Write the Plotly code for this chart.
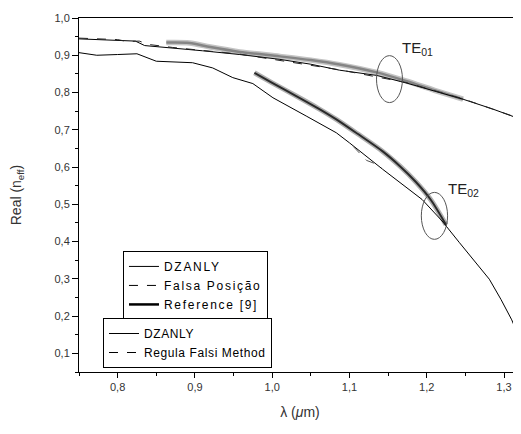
import plotly.graph_objects as go

# ---- data ----
# TE01 mode
te01_dz_x = [0.75, 0.80, 0.823, 0.835, 0.871, 0.91, 0.958, 1.01, 1.05, 1.087, 1.135, 1.173, 1.21, 1.247, 1.285, 1.322]
te01_dz_y = [0.944, 0.941, 0.938, 0.926, 0.920, 0.912, 0.902, 0.889, 0.876, 0.860, 0.846, 0.826, 0.804, 0.782, 0.756, 0.728]

te01_fp_x = [0.75, 0.80, 0.812, 0.828, 0.84, 0.871, 0.958, 1.087, 1.173, 1.247, 1.322]
te01_fp_y = [0.946, 0.942, 0.937, 0.938, 0.929, 0.921, 0.903, 0.861, 0.827, 0.783, 0.729]

te01_ref_x = [0.863, 0.893, 0.92, 0.958, 1.01, 1.05, 1.087, 1.135, 1.173, 1.21, 1.247]
te01_ref_y = [0.934, 0.933, 0.922, 0.909, 0.897, 0.887, 0.875, 0.854, 0.831, 0.806, 0.782]

# TE02 mode
te02_dz_x = [0.75, 0.773, 0.80, 0.825, 0.850, 0.897, 0.923, 0.949, 0.975, 1.001, 1.044, 1.083, 1.10,
             1.143, 1.194, 1.22, 1.242, 1.281, 1.296, 1.31, 1.322]
te02_dz_y = [0.907, 0.900, 0.902, 0.904, 0.884, 0.880, 0.866, 0.840, 0.824, 0.786, 0.737, 0.692, 0.665,
             0.594, 0.513, 0.455, 0.398, 0.299, 0.245, 0.19, 0.13]

te02_fp_x = [1.105, 1.112, 1.122, 1.132, 1.142]
te02_fp_y = [0.655, 0.640, 0.618, 0.610, 0.598]

te02_ref_x = [0.977, 1.00, 1.03, 1.06, 1.083, 1.11, 1.143, 1.165, 1.186, 1.205, 1.225]
te02_ref_y = [0.853, 0.826, 0.792, 0.757, 0.728, 0.690, 0.642, 0.603, 0.560, 0.513, 0.445]

legend1_names = ["DZANLY", "Falsa Posição", "Reference [9]"]
legend2_names = ["DZANLY", "Regula Falsi Method"]

x_range = [0.75, 1.322]
y_range = [0.05, 1.0]

FONT = "Arial, Liberation Sans, sans-serif"

fig = go.Figure()

def line(x, y, color, width, dash="solid", shape="linear"):
    fig.add_trace(go.Scatter(x=x, y=y, mode="lines",
                             line=dict(color=color, width=width, dash=dash, shape=shape, smoothing=0.8),
                             showlegend=False, hoverinfo="skip"))

# reference curves (thick, blurred look)
line(te01_ref_x, te01_ref_y, "#c4c4c4", 5.5, shape="spline")
line(te01_ref_x, te01_ref_y, "#858585", 2.5, shape="spline")
line(te02_ref_x, te02_ref_y, "#b0b0b0", 5.0, shape="spline")
line(te02_ref_x, te02_ref_y, "#2a2a2a", 2.0, shape="spline")

# DZANLY and Falsa Posicao curves
line(te01_dz_x, te01_dz_y, "black", 1)
line(te01_fp_x, te01_fp_y, "#222222", 1, "dash")
line(te02_dz_x, te02_dz_y, "black", 1)
line(te02_fp_x, te02_fp_y, "#555555", 1, "dash")

def spaced(s, px):
    return "<span style='letter-spacing:%.1fpx'>%s</span>" % (px, s)

# legend entries
styles1 = [dict(color="black", width=1), dict(color="black", width=1, dash="dash"), dict(color="black", width=2.5)]
for name, st in zip(legend1_names, styles1):
    fig.add_trace(go.Scatter(x=[None], y=[None], mode="lines", name=spaced(name, 1.7), line=st, legend="legend"))
styles2 = [dict(color="black", width=1), dict(color="black", width=1, dash="dash")]
for name, st in zip(legend2_names, styles2):
    fig.add_trace(go.Scatter(x=[None], y=[None], mode="lines", name=spaced(name, 0.6), line=st, legend="legend2"))

# ellipses marking the modes
fig.add_shape(type="circle", xref="x", yref="y", x0=1.135, x1=1.1686, y0=0.773, y1=0.899,
              line=dict(color="#555555", width=1))
fig.add_shape(type="circle", xref="x", yref="y", x0=1.193, x1=1.227, y0=0.406, y1=0.532,
              line=dict(color="#555555", width=1))

fig.add_annotation(x=1.165, y=0.917, xref="x", yref="y", xanchor="left", yanchor="middle", showarrow=False,
                   text="TE<sub>01</sub>", font=dict(family=FONT, size=15, color="#222"))
fig.add_annotation(x=1.225, y=0.540, xref="x", yref="y", xanchor="left", yanchor="middle", showarrow=False,
                   text="TE<sub>02</sub>", font=dict(family=FONT, size=15, color="#222"))

axis_common = dict(showline=True, linecolor="black", linewidth=1, mirror=True, ticks="outside",
                   tickcolor="black", tickwidth=1, showgrid=False, zeroline=False, tickformat=".1f",
                   automargin=False, tickfont=dict(family=FONT, size=11, color="#333"))

# the page body adds an 8px offset, so the figure is 8px smaller and margins compensate
fig.update_layout(
    width=513, height=426,
    margin=dict(l=71, r=0, t=10, b=62),
    paper_bgcolor="white", plot_bgcolor="white",
    separators=", ",
    font=dict(family=FONT, color="#222"),
    xaxis=dict(range=x_range, tick0=0.8, dtick=0.1, ticklen=5,
               minor=dict(dtick=0.05, tick0=0.75, ticklen=3, ticks="outside", tickcolor="black"),
               title=dict(text="λ (<i>μ</i>m)", font=dict(family=FONT, size=14, color="#333"), standoff=14),
               **axis_common),
    yaxis=dict(range=y_range, tick0=0.1, dtick=0.1, ticklen=6,
               minor=dict(dtick=0.05, tick0=0.05, ticklen=3, ticks="outside", tickcolor="black"),
               title=dict(text="Real (n<sub>eff</sub>)", font=dict(family=FONT, size=14, color="#333"), standoff=30),
               **axis_common),
    legend=dict(x=0.0995, y=0.342, xanchor="left", yanchor="top", bgcolor="white", bordercolor="black",
                borderwidth=1, font=dict(family=FONT, size=12, color="black"), tracegroupgap=0),
    legend2=dict(x=0.0543, y=0.1525, xanchor="left", yanchor="top", bgcolor="white", bordercolor="black",
                 borderwidth=1, font=dict(family=FONT, size=12, color="black"), tracegroupgap=0),
)

fig.write_html("out.html")
